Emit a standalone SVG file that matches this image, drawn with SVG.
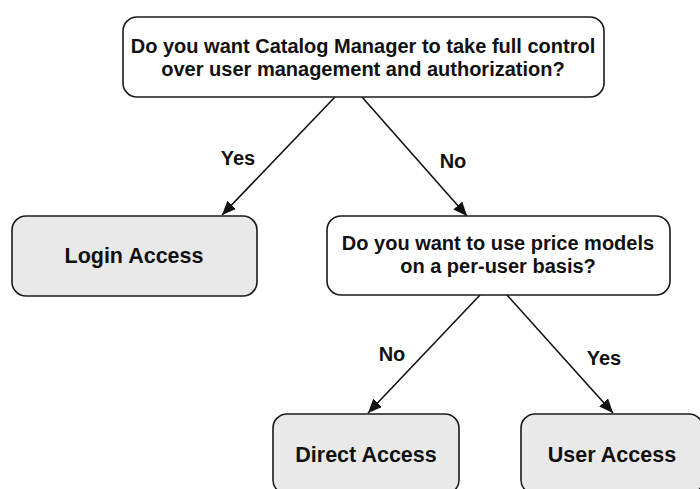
<svg xmlns="http://www.w3.org/2000/svg" width="700" height="489" viewBox="0 0 700 489">
<defs>
<style>
.box{stroke:#1a1a1a;stroke-width:1.6;}
.q{fill:#ffffff;}
.leaf{fill:#e9e9e9;}
text{font-family:"Liberation Sans",Arial,sans-serif;font-weight:bold;fill:#111;text-anchor:middle;}
.qt{font-size:20px;}
.lt{font-size:21.5px;}
.el{font-size:20px;}
.conn{stroke:#111;stroke-width:1.6;fill:none;marker-end:url(#arr);}
</style>
<marker id="arr" markerUnits="userSpaceOnUse" markerWidth="16" markerHeight="14" refX="14" refY="6" orient="auto">
<path d="M0,0 L14,6 L0,12 Z" fill="#111"/>
</marker>
</defs>
<rect width="700" height="489" fill="#ffffff"/>
<g id="connectors">
<path class="conn" d="M335,97 L222,215"/>
<path class="conn" d="M362,97 L467,216"/>
<path class="conn" d="M480,295 L368,413"/>
<path class="conn" d="M507,295 L613,413"/>
<text class="el" x="238" y="165">Yes</text>
<text class="el" x="453" y="168">No</text>
<text class="el" x="392" y="361">No</text>
<text class="el" x="604" y="365">Yes</text>
</g>
<g id="q1">
<rect class="box q" x="123" y="17" width="481" height="80" rx="14"/>
<text class="qt" x="363" y="53">Do you want Catalog Manager to take full control</text>
<text class="qt" x="363" y="76">over user management and authorization?</text>
</g>
<g id="login">
<rect class="box leaf" x="12" y="216" width="245" height="80" rx="14"/>
<text class="lt" x="134" y="263">Login Access</text>
</g>
<g id="q2">
<rect class="box q" x="327" y="216" width="343" height="79" rx="14"/>
<text class="qt" x="498" y="250">Do you want to use price models</text>
<text class="qt" x="498" y="273">on a per-user basis?</text>
</g>
<g id="direct">
<rect class="box leaf" x="273" y="414" width="186" height="80" rx="14"/>
<text class="lt" x="366" y="462">Direct Access</text>
</g>
<g id="user">
<rect class="box leaf" x="521" y="414" width="182" height="80" rx="14"/>
<text class="lt" x="612" y="462">User Access</text>
</g>
</svg>
